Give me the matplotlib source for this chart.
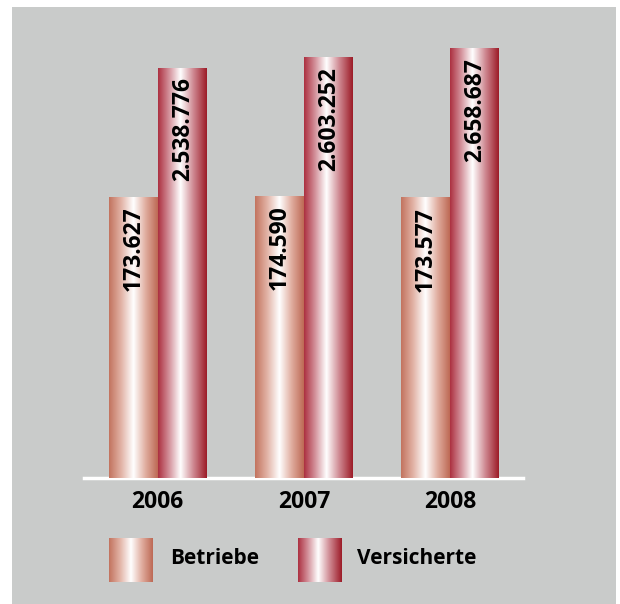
"""Betriebe und Versicherte 2006-2008 als Balken mit Farbverlauf."""

import matplotlib
matplotlib.use("Agg")
from matplotlib import pyplot as plt
from matplotlib.colors import LinearSegmentedColormap
from matplotlib.patches import Rectangle
import numpy as np

# data
years = ["2006", "2007", "2008"]
betriebe = [173627, 174590, 173577]
versicherte = [2538776, 2603252, 2658687]
series_names = ["Betriebe", "Versicherte"]

plt.rcParams["font.family"] = ["Open Sans", "DejaVu Sans"]

BG = "#c9cbca"
cmap_betriebe = LinearSegmentedColormap.from_list(
    "betriebe", [(0.0, "#c2735e"), (0.25, "#e2b3a6"), (0.5, "#ffffff"), (0.75, "#e0ad9f"), (1.0, "#bd6954")])
cmap_versicherte = LinearSegmentedColormap.from_list(
    "versicherte", [(0.0, "#ac3040"), (0.22, "#d28e98"), (0.46, "#ffffff"), (0.72, "#cf8a93"), (1.0, "#9c1b27")])


def fmt(v: int) -> str:
    """German thousands separator."""
    return f"{v:,}".replace(",", ".")


def gradient_fill(ax, rect, cmap) -> None:
    """Replace a flat bar by a horizontal colour gradient."""
    x, w, h = rect.get_x(), rect.get_width(), rect.get_height()
    grad = np.linspace(0, 1, 256).reshape(1, -1)
    ax.imshow(grad, cmap=cmap, extent=(x, x + w, 0, h), aspect="auto",
              interpolation="bilinear", zorder=2)
    rect.set_visible(False)


fig = plt.figure(figsize=(6.2, 6.04), dpi=100, facecolor="white")
fig.patches.append(Rectangle((12 / 620, 0), (616 - 12) / 620, 1 - 7 / 604,
                             transform=fig.transFigure, facecolor=BG,
                             edgecolor="none", zorder=-10))

ax = fig.add_axes([84 / 620, 126 / 604, (523 - 84) / 620, (478 - 26) / 604])
ax.set_facecolor("none")
ax2 = ax.twinx()

x = np.arange(len(years))
w = 0.335

bars_b = ax.bar(x - w / 2, betriebe, width=w)
bars_v = ax2.bar(x + w / 2, versicherte, width=w)

for rect in bars_b:
    gradient_fill(ax, rect, cmap_betriebe)
for rect in bars_v:
    gradient_fill(ax2, rect, cmap_versicherte)

# value labels inside the bars, near the top
for axis, bars, vals in ((ax, bars_b, betriebe), (ax2, bars_v, versicherte)):
    for rect, v in zip(bars, vals):
        axis.annotate(fmt(v), (rect.get_x() + rect.get_width() / 2, v),
                      xytext=(0.5, -6.5), textcoords="offset points",
                      rotation=90, ha="center", va="top",
                      fontsize=16.5, fontweight="bold", color="black", zorder=5)

ax.set_xlim(-0.505, 2.5)
ax.set_ylim(0, 280000)
ax2.set_ylim(0, 2800000)

ax.set_xticks(x, years)
ax.tick_params(axis="x", length=0, pad=8.5, labelsize=16.5)
for lab in ax.get_xticklabels():
    lab.set_fontweight("bold")
ax.set_yticks([])
ax2.set_yticks([])

for s in ("top", "left", "right"):
    ax.spines[s].set_visible(False)
for s in ax2.spines.values():
    s.set_visible(False)
ax.spines["bottom"].set_color("white")
ax.spines["bottom"].set_linewidth(2.5)
ax.spines["bottom"].set_zorder(1)

# legend
legend_items = [(series_names[0], cmap_betriebe, 109, 170),
                (series_names[1], cmap_versicherte, 298, 357)]
for name, cmap, px, tx in legend_items:
    lax = fig.add_axes([px / 620, (604 - 582) / 604, 44 / 620, 44 / 604])
    lax.imshow(np.linspace(0, 1, 256).reshape(1, -1), cmap=cmap,
               aspect="auto", interpolation="bilinear")
    lax.axis("off")
    fig.text(tx / 620, (604 - 558) / 604, name, ha="left", va="center",
             fontsize=15, fontweight="bold")

fig.savefig("out.png", dpi=100, facecolor="white")
